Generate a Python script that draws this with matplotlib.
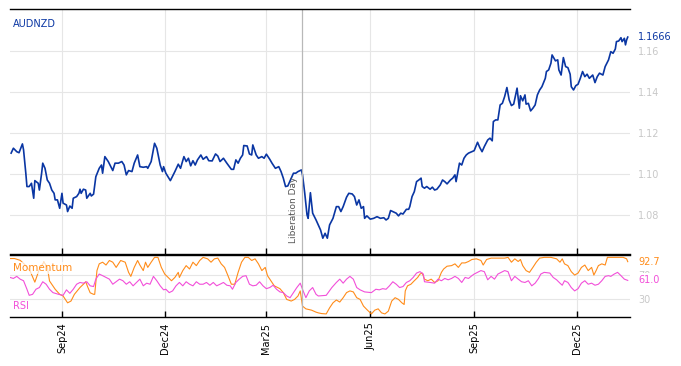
import matplotlib
matplotlib.use("Agg")
import matplotlib.pyplot as plt
import matplotlib.dates as mdates
import matplotlib.transforms as mtrans
import pandas as pd

# AUDNZD daily close, day offsets from 2024-07-17
start = pd.Timestamp("2024-07-17")
price_days = [1, 3, 6, 8, 11, 12, 14, 15, 17, 19, 21, 22, 25, 26, 28, 29, 31, 33, 35, 37,
              39, 40, 42, 44, 46, 47, 50, 51, 53, 55, 56, 59, 61, 62, 63, 65, 67, 68, 71, 72,
              74, 76, 79, 81, 82, 84, 87, 91, 93, 96, 99, 101, 103, 105, 108, 110, 113, 115, 118, 121,
              122, 125, 128, 130, 133, 135, 136, 138, 142, 146, 149, 151, 154, 156, 158, 160, 162, 164, 166, 169,
              171, 174, 176, 179, 182, 184, 186, 189, 192, 196, 198, 200, 202, 204, 206, 207, 210, 212, 214, 215,
              218, 220, 223, 225, 227, 230, 232, 235, 238, 240, 242, 244, 246, 249, 251, 253, 255, 258, 259, 261,
              263, 264, 266, 268, 271, 273, 275, 277, 279, 281, 283, 286, 289, 291, 293, 295, 298, 300, 303, 305,
              307, 309, 311, 313, 314, 316, 319, 322, 325, 328, 331, 333, 335, 337, 339, 342, 344, 346, 348, 351,
              353, 354, 356, 358, 360, 362, 364, 365, 367, 369, 372, 374, 376, 378, 381, 383, 385, 387, 390, 392,
              394, 395, 398, 400, 402, 404, 406, 409, 411, 413, 414, 416, 418, 420, 423, 425, 427, 428, 430, 432,
              434, 436, 438, 440, 442, 444, 446, 449, 451, 452, 454, 456, 457, 459, 461, 463, 465, 467, 469, 471,
              474, 475, 477, 479, 480, 483, 485, 486, 488, 490, 492, 494, 496, 497, 499, 501, 503, 505, 507, 509,
              511, 513, 516, 518, 520, 522, 525, 527, 530, 532, 534, 536, 537, 539, 541, 542, 544, 545, 546, 547]
price = [1.1100, 1.1124, 1.1107, 1.1102, 1.1145, 1.1116, 1.1002, 1.0937, 1.0937, 1.0953, 1.0880, 1.0966, 1.0953, 1.0920, 1.1002, 1.1051, 1.1026, 1.0969, 1.0953, 1.0920,
         1.0904, 1.0872, 1.0872, 1.0831, 1.0904, 1.0856, 1.0847, 1.0815, 1.0842, 1.0831, 1.0880, 1.0888, 1.0904, 1.0924, 1.0904, 1.0924, 1.0920, 1.0880, 1.0904, 1.0891,
         1.0900, 1.0985, 1.1026, 1.1042, 1.1002, 1.1083, 1.1059, 1.1015, 1.1051, 1.1051, 1.1059, 1.1042, 1.0994, 1.1015, 1.1010, 1.1051, 1.1091, 1.1034, 1.1031, 1.1034,
         1.1026, 1.1059, 1.1148, 1.1124, 1.1042, 1.1010, 1.1034, 1.1002, 1.0966, 1.1010, 1.1046, 1.1026, 1.1083, 1.1059, 1.1075, 1.1038, 1.1063, 1.1042, 1.1067, 1.1091,
         1.1070, 1.1083, 1.1063, 1.1062, 1.1096, 1.1086, 1.1059, 1.1075, 1.1051, 1.1021, 1.1021, 1.1067, 1.1051, 1.1075, 1.1091, 1.1137, 1.1135, 1.1096, 1.1091, 1.1140,
         1.1091, 1.1075, 1.1083, 1.1075, 1.1095, 1.1070, 1.1051, 1.1026, 1.1034, 1.1010, 1.0978, 1.0937, 1.0940, 1.0978, 1.1002, 1.1002, 1.1010, 1.1018, 1.0994, 1.0904,
         1.0799, 1.0782, 1.0907, 1.0807, 1.0774, 1.0750, 1.0725, 1.0685, 1.0709, 1.0685, 1.0750, 1.0782, 1.0839, 1.0839, 1.0815, 1.0839, 1.0885, 1.0904, 1.0901, 1.0888,
         1.0847, 1.0872, 1.0831, 1.0839, 1.0782, 1.0794, 1.0778, 1.0782, 1.0790, 1.0782, 1.0785, 1.0774, 1.0782, 1.0820, 1.0815, 1.0807, 1.0794, 1.0807, 1.0803, 1.0826,
         1.0826, 1.0839, 1.0888, 1.0912, 1.0961, 1.0969, 1.0978, 1.0937, 1.0929, 1.0937, 1.0924, 1.0934, 1.0920, 1.0924, 1.0945, 1.0969, 1.0961, 1.0950, 1.0969, 1.0978,
         1.0994, 1.0961, 1.1051, 1.1042, 1.1075, 1.1091, 1.1100, 1.1107, 1.1112, 1.1140, 1.1153, 1.1127, 1.1107, 1.1132, 1.1164, 1.1173, 1.1160, 1.1254, 1.1262, 1.1262,
         1.1335, 1.1343, 1.1376, 1.1420, 1.1360, 1.1332, 1.1339, 1.1417, 1.1319, 1.1380, 1.1355, 1.1384, 1.1339, 1.1343, 1.1306, 1.1319, 1.1335, 1.1384, 1.1408, 1.1424,
         1.1465, 1.1498, 1.1506, 1.1539, 1.1579, 1.1550, 1.1555, 1.1506, 1.1481, 1.1566, 1.1522, 1.1517, 1.1485, 1.1424, 1.1408, 1.1429, 1.1436, 1.1465, 1.1498, 1.1473,
         1.1485, 1.1465, 1.1481, 1.1444, 1.1473, 1.1490, 1.1481, 1.1522, 1.1555, 1.1595, 1.1587, 1.1608, 1.1644, 1.1647, 1.1663, 1.1644, 1.1660, 1.1628, 1.1652, 1.1666]

mom_days = [0, 4, 9, 13, 18, 22, 26, 30, 33, 35, 40, 44, 47, 51, 54, 57, 62, 65, 67, 69,
            71, 74, 75, 77, 79, 82, 85, 88, 91, 94, 98, 102, 105, 107, 110, 113, 115, 118, 120, 122,
            125, 128, 131, 134, 137, 140, 143, 146, 149, 150, 153, 156, 159, 162, 165, 168, 171, 175, 178, 181,
            184, 187, 190, 193, 196, 199, 202, 205, 208, 211, 214, 217, 220, 223, 226, 228, 231, 234, 239, 242,
            245, 249, 252, 255, 257, 259, 262, 267, 271, 273, 276, 280, 283, 286, 289, 292, 295, 298, 301, 304,
            307, 310, 313, 316, 320, 323, 326, 329, 332, 335, 338, 341, 344, 347, 349, 350, 352, 355, 358, 361,
            363, 365, 367, 370, 373, 376, 379, 382, 384, 387, 391, 394, 397, 400, 403, 406, 409, 413, 417, 419,
            422, 426, 432, 438, 441, 444, 447, 450, 452, 454, 457, 460, 463, 466, 469, 473, 479, 484, 487, 489,
            491, 494, 497, 500, 503, 506, 509, 512, 515, 517, 519, 521, 524, 527, 529, 532, 537, 540, 543, 546, 547]
momentum = [98, 98, 95, 88, 76, 58, 80, 92, 84, 60, 46, 37.4, 34.6, 23, 26, 37.4, 49, 54.5, 58.7, 49,
            40, 37.4, 37.4, 77.6, 89, 91.8, 87, 94.7, 91.8, 83, 94.7, 91.8, 74.6, 67.8, 83, 94.7, 87, 77.6, 91.8, 83,
            91.8, 100, 100, 83, 71.7, 66, 60.4, 66, 74.6, 66, 77.6, 86, 80.3, 91.8, 86, 94.7, 100, 97.5, 91.8, 97.5,
            98.7, 89, 83, 69, 54.5, 54.5, 74.6, 91.8, 100, 100, 94.7, 97.5, 89, 77.6, 83, 69, 60.4, 51.8, 47, 40.3,
            28.8, 26, 28.8, 34.6, 43.2, 17.5, 12.8, 10.6, 7.2, 6, 4.8, 4.2, 14.5, 23, 27.8, 24.3, 31.7, 40.3, 43.2, 41.5,
            31.7, 28.8, 17.5, 11.6, 4.2, 10.6, 12.8, 6, 4.2, 8.9, 26, 31.7, 28.8, 23, 20.2, 43.2, 51.8, 54.5, 60.4, 66,
            71.7, 73.4, 63.1, 60.4, 63.1, 57.5, 60.4, 74.6, 80.3, 85, 86, 89, 83, 90.6, 90.6, 93, 96.4, 97.5, 94.7, 87,
            96.4, 98.7, 98.7, 98.7, 100, 91.8, 97.5, 93, 96.4, 86, 77.6, 74.6, 83, 91.8, 98.7, 100, 100, 97.5, 91.8, 97.5,
            89, 86, 75.8, 70, 73.4, 83, 87, 77.6, 83, 70, 77.6, 86, 89, 87, 100, 100, 100, 100, 100, 97.5, 92.7]

rsi_days = [0, 3, 6, 9, 12, 15, 17, 20, 23, 26, 29, 32, 35, 38, 43, 47, 50, 53, 56, 59,
            62, 65, 68, 71, 74, 76, 79, 82, 85, 88, 91, 94, 97, 100, 103, 106, 109, 112, 115, 118,
            121, 124, 127, 130, 133, 136, 138, 141, 144, 147, 150, 153, 156, 159, 162, 165, 168, 171, 174, 177,
            180, 183, 186, 189, 192, 195, 197, 200, 203, 206, 209, 212, 215, 218, 221, 224, 227, 230, 233, 236,
            239, 242, 245, 248, 251, 254, 257, 259, 262, 265, 268, 271, 273, 280, 285, 289, 292, 295, 298, 301,
            304, 307, 310, 314, 320, 324, 327, 330, 333, 336, 339, 342, 345, 348, 351, 354, 357, 360, 363, 366,
            367, 372, 376, 379, 382, 385, 388, 391, 394, 397, 400, 403, 406, 409, 411, 414, 417, 420, 423, 426,
            429, 432, 435, 438, 441, 444, 447, 450, 453, 456, 459, 462, 465, 468, 470, 473, 478, 481, 484, 487,
            489, 491, 494, 497, 500, 503, 506, 509, 512, 515, 518, 521, 524, 527, 530, 532, 535, 538, 541, 544, 547]
rsi = [66, 64.3, 67.8, 63.1, 60.4, 46, 35.7, 37.4, 46, 48.9, 58.7, 54.5, 46, 40.3, 37.4, 35.7, 45, 39.1, 46, 54.5,
       57.5, 56.3, 58.7, 51.8, 50.6, 63.1, 71.7, 69, 66, 63.1, 54.5, 58.7, 63.1, 60.4, 54.5, 58.7, 51.8, 57.5, 63.1, 51.8,
       56.3, 54.5, 67.8, 60.4, 51.8, 45, 46, 40.3, 43.2, 51.8, 57.5, 51.8, 58.7, 54.5, 51.8, 58.7, 54.5, 54.5, 57.5, 52.8,
       57.5, 51.8, 54.5, 57.5, 52.8, 51.8, 46, 57.5, 63.1, 67.8, 69, 54.5, 51.8, 52.8, 58.7, 51.8, 47, 48.9, 52.8, 46,
       41.5, 40.3, 34.6, 31.7, 40.3, 48.9, 56.3, 46, 31.7, 43.2, 48.9, 37.4, 34.6, 35.7, 48.9, 57.5, 63.1, 56.3, 63.1, 67.8,
       63.1, 48.9, 45, 41.5, 40.3, 46, 45, 47, 46, 51.8, 58.7, 54.5, 48.9, 50.6, 57.5, 60.4, 66, 73.4, 75.8, 71.7,
       58.7, 57.5, 56.3, 63.1, 60.4, 64.3, 62, 64.3, 67.8, 64.3, 57.5, 66, 64.3, 69, 71.7, 74.6, 77.6, 75.8, 62, 67.8,
       63.1, 71.7, 74.6, 77.6, 75.8, 60.4, 67.8, 63.1, 58.7, 57.5, 60.4, 51.8, 56.3, 64.3, 71.7, 74.6, 73.4, 66, 62, 56.3,
       52.8, 60.4, 57.5, 48.9, 43.2, 47, 56.3, 60.4, 54.5, 56.3, 52.8, 54.5, 60.4, 67.8, 69, 67.8, 71.7, 74.6, 69, 63.1, 61.0]

price_ticks = [1.08, 1.10, 1.12, 1.14, 1.16]
osc_ticks = [30, 70]
event_date = pd.Timestamp("2025-04-02")
event_label = "Liberation Day"

BLUE = "#0a36a3"
ORANGE = "#ff8c1a"
PINK = "#f24fd9"
GRID = "#e6e6e6"
TICKC = "#c8c8c8"


def to_dates(days):
    return start + pd.to_timedelta(days, unit="D")


fig = plt.figure(figsize=(6.81, 3.66), dpi=100)
ax = fig.add_axes([10 / 681, 1 - 254 / 366, 620 / 681, 245 / 366])
ax2 = fig.add_axes([10 / 681, 1 - 317 / 366, 620 / 681, 62 / 366], sharex=ax)

ax.plot(to_dates(price_days), price, color=BLUE, lw=1.2)
ax2.plot(to_dates(mom_days), momentum, color=ORANGE, lw=0.8)
ax2.plot(to_dates(rsi_days), rsi, color=PINK, lw=0.8)

ax.set_xlim(start, start + pd.Timedelta(days=549))
ax.set_ylim(1.0608, 1.1803)
ax2.set_ylim(-1, 104)
ax.set_yticks(price_ticks)
ax2.set_yticks(osc_ticks)

for a in (ax, ax2):
    a.xaxis.set_major_locator(mdates.MonthLocator(bymonth=[3, 6, 9, 12]))
    a.xaxis.set_major_formatter(mdates.DateFormatter("%b%y"))
    a.grid(True, color=GRID, lw=0.8)
    a.set_axisbelow(True)
    a.yaxis.tick_right()
    a.tick_params(axis="y", length=0, pad=6, labelcolor=TICKC, labelsize=7)
    a.tick_params(axis="x", direction="in", length=4, width=1, color="black")
    for s in ("left", "right"):
        a.spines[s].set_visible(False)
    for s in ("top", "bottom"):
        a.spines[s].set_linewidth(1.0)
    a.axvline(event_date, color="#b8b8b8", lw=0.9)

ax.tick_params(axis="x", labelbottom=False)
ax2.tick_params(axis="x", labelsize=7, labelrotation=90, pad=4)
for lab in ax2.get_xticklabels():
    lab.set_ha("center")

# labels
ax.text(0.005, 0.94, "AUDNZD", transform=ax.transAxes, color=BLUE, fontsize=7,
        ha="left", va="center", bbox=dict(facecolor="white", edgecolor="none", pad=3))
ax.annotate(f"{price[-1]:.4f}", xy=(1, price[-1]), xycoords=("axes fraction", "data"),
            xytext=(6, 0), textcoords="offset points", color=BLUE, fontsize=7, va="center",
            bbox=dict(facecolor="white", edgecolor="none", pad=0.5))
tr = mtrans.blended_transform_factory(ax.transData, ax.transAxes)
ax.text(event_date - pd.Timedelta(days=4), 0.045, event_label, transform=tr, rotation=90,
        color="#555555", fontsize=6.5, ha="right", va="bottom")

ax2.text(0.005, 0.79, "Momentum", transform=ax2.transAxes, color=ORANGE, fontsize=7.5,
         ha="left", va="center", bbox=dict(facecolor="white", edgecolor="none", alpha=0.7, pad=1))
ax2.text(0.005, 0.17, "RSI", transform=ax2.transAxes, color=PINK, fontsize=7,
         ha="left", va="center")
for val, col in ((momentum[-1], ORANGE), (rsi[-1], PINK)):
    ax2.annotate(f"{val:.1f}", xy=(1, val), xycoords=("axes fraction", "data"),
                 xytext=(6, 0), textcoords="offset points", color=col, fontsize=7, va="center",
                 bbox=dict(facecolor="white", edgecolor="none", pad=2))

fig.savefig("out.png", dpi=100)
